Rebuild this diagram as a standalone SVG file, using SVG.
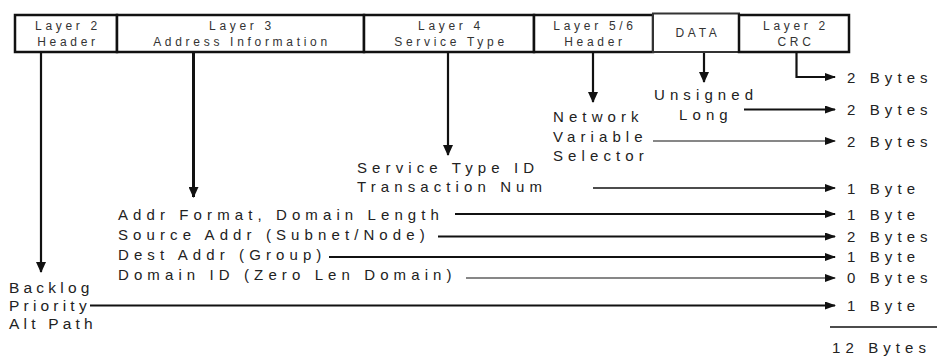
<svg xmlns="http://www.w3.org/2000/svg" width="937" height="356" viewBox="0 0 937 356">
  <style>
    .box { fill: #ffffff; stroke: #111; stroke-width: 2.5; }
    .box.data { stroke: #333; stroke-width: 2; }
    .hdr { font-family: "Liberation Sans", Arial, sans-serif; font-size: 12px; letter-spacing: 3.7px; fill: #333; text-anchor: middle; }
    .lbl { font-family: "Liberation Sans", Arial, sans-serif; font-size: 15px; letter-spacing: 5.1px; fill: #222; }
    .big { font-size: 15.5px; letter-spacing: 4.2px; }
    .ln { fill: none; stroke: #111; }
    .w1 { stroke-width: 1.2; }
    .w15 { stroke-width: 1.6; }
    .w2 { stroke-width: 2.2; }
    .w3 { stroke-width: 3; }
  </style>
  <defs>
    <marker id="arr" markerUnits="userSpaceOnUse" markerWidth="11" markerHeight="8" refX="10" refY="4" orient="auto">
      <path d="M0,0 L11,4 L0,8 z" fill="#111"/>
    </marker>
    <marker id="arrBig" markerUnits="userSpaceOnUse" markerWidth="11" markerHeight="10" refX="10" refY="5" orient="auto">
      <path d="M0,0 L11,5 L0,10 z" fill="#111"/>
    </marker>
  </defs>

  <!-- packet header fields -->
  <g id="layer2-header">
    <rect class="box" x="15" y="15" width="102" height="37"/>
    <text class="hdr" x="68" y="29.5">Layer 2</text>
    <text class="hdr" x="68" y="45.5">Header</text>
  </g>
  <g id="layer3-address">
    <rect class="box" x="117" y="15" width="247" height="37"/>
    <text class="hdr" x="242" y="29.5">Layer 3</text>
    <text class="hdr" x="242" y="45.5">Address Information</text>
  </g>
  <g id="layer4-service">
    <rect class="box" x="364" y="15" width="170" height="37"/>
    <text class="hdr" x="451" y="29.5">Layer 4</text>
    <text class="hdr" x="451" y="45.5">Service Type</text>
  </g>
  <g id="layer56-header">
    <rect class="box" x="534" y="15" width="119" height="37"/>
    <text class="hdr" x="595" y="29.5">Layer 5/6</text>
    <text class="hdr" x="595" y="45.5">Header</text>
  </g>
  <g id="data">
    <rect class="box data" x="653" y="13.5" width="86" height="38.5"/>
    <text class="hdr" x="698" y="37">DATA</text>
  </g>
  <g id="layer2-crc">
    <rect class="box" x="739" y="15" width="110" height="37"/>
    <text class="hdr" x="796" y="29.5">Layer 2</text>
    <text class="hdr" x="796" y="45.5">CRC</text>
  </g>

  <!-- field descriptions -->
  <g id="desc-backlog">
    <text class="lbl big" x="9" y="293">Backlog</text>
    <text class="lbl big" x="9" y="311">Priority</text>
    <text class="lbl big" x="9" y="329">Alt Path</text>
  </g>
  <g id="desc-address">
    <text class="lbl" x="118" y="220">Addr Format, Domain Length</text>
    <text class="lbl" x="118" y="240">Source Addr (Subnet/Node)</text>
    <text class="lbl" x="118" y="260">Dest Addr (Group)</text>
    <text class="lbl" x="118" y="280">Domain ID (Zero Len Domain)</text>
  </g>
  <g id="desc-service">
    <text class="lbl" x="357" y="173">Service Type ID</text>
    <text class="lbl" x="357" y="192">Transaction Num</text>
  </g>
  <g id="desc-selector">
    <text class="lbl" x="553" y="122">Network</text>
    <text class="lbl" x="553" y="142">Variable</text>
    <text class="lbl" x="553" y="161">Selector</text>
  </g>
  <g id="desc-data">
    <text class="lbl" x="654" y="100">Unsigned</text>
    <text class="lbl" x="679" y="120">Long</text>
  </g>

  <!-- sizes -->
  <g id="sizes">
    <text class="lbl" x="847" y="83">2 Bytes</text>
    <text class="lbl" x="847" y="115">2 Bytes</text>
    <text class="lbl" x="847" y="147">2 Bytes</text>
    <text class="lbl" x="847" y="194">1 Byte</text>
    <text class="lbl" x="847" y="220">1 Byte</text>
    <text class="lbl" x="847" y="242">2 Bytes</text>
    <text class="lbl" x="847" y="262">1 Byte</text>
    <text class="lbl" x="847" y="283">0 Bytes</text>
    <text class="lbl" x="847" y="311">1 Byte</text>
    <line class="ln w15" x1="830" y1="327" x2="937" y2="327"/>
    <text class="lbl" x="832" y="353">12 Bytes</text>
  </g>

  <!-- connectors -->
  <g id="connectors">
    <line class="ln w2" x1="41" y1="53" x2="41" y2="272" marker-end="url(#arrBig)"/>
    <line class="ln w3" x1="193.5" y1="53" x2="193.5" y2="197" marker-end="url(#arrBig)"/>
    <line class="ln w2" x1="448" y1="53" x2="448" y2="155" marker-end="url(#arrBig)"/>
    <line class="ln w2" x1="593" y1="53" x2="593" y2="102" marker-end="url(#arrBig)"/>
    <line class="ln w2" x1="704" y1="53" x2="704" y2="82" marker-end="url(#arrBig)"/>
    <polyline class="ln w2" points="796.5,53 796.5,77 835,77" marker-end="url(#arr)"/>

    <line class="ln w2" x1="744" y1="109.5" x2="835" y2="109.5" marker-end="url(#arr)"/>
    <line class="ln w1" x1="653" y1="141" x2="835" y2="141" marker-end="url(#arr)"/>
    <line class="ln w15" x1="593" y1="188" x2="835" y2="188" marker-end="url(#arr)"/>
    <line class="ln w2" x1="455" y1="214" x2="835" y2="214" marker-end="url(#arr)"/>
    <line class="ln w2" x1="438" y1="236.5" x2="835" y2="236.5" marker-end="url(#arr)"/>
    <line class="ln w2" x1="329" y1="257" x2="835" y2="257" marker-end="url(#arr)"/>
    <line class="ln w1" x1="466" y1="278" x2="835" y2="278" marker-end="url(#arr)"/>
    <line class="ln w2" x1="90" y1="305.5" x2="835" y2="305.5" marker-end="url(#arr)"/>
  </g>
</svg>
